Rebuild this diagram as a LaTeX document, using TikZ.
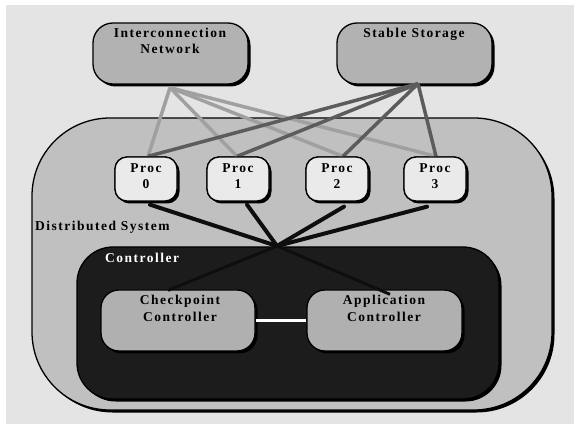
\documentclass[tikz,border=0pt]{standalone}
\usepackage{fontspec}
\setmainfont{Liberation Serif}[LetterSpace=11]
\usetikzlibrary{shadows,calc}
\definecolor{bgc}{HTML}{E4E4E4}
\definecolor{distc}{HTML}{C0C0C0}
\definecolor{topc}{HTML}{B2B2B2}
\definecolor{procc}{HTML}{EAEAEA}
\definecolor{ctrlc}{HTML}{1C1C1C}
\definecolor{subc}{HTML}{B0B0B0}
\definecolor{netl}{HTML}{A0A0A0}
\definecolor{storel}{HTML}{5C5C5C}
\definecolor{linkc}{HTML}{0E0E0E}
\begin{document}
\begin{tikzpicture}[x=1pt,y=-1pt,
  shad/.style={drop shadow={opacity=1,fill=black,shadow xshift=2.5pt,shadow yshift=-2.5pt}},
  box/.style={draw=black,line width=1.3pt,shad,inner sep=0pt,anchor=center},
  lbl/.style={font=\fontsize{13.5}{16}\selectfont\bfseries,inner sep=0pt,anchor=base},
  netline/.style={draw=netl,line width=3.5pt},
  storeline/.style={draw=storel,line width=3.5pt},
  link/.style={draw=linkc,line width=4pt},
  link2/.style={draw=linkc,line width=3pt}]
\useasboundingbox (0,0) rectangle (574,425);
\fill[white] (0,0) rectangle (574,425);
\fill[bgc] (6,5) rectangle (574,424);
% containers
\node[box,fill=distc,rounded corners=78pt,minimum width=520pt,minimum height=292pt] (dist) at (292,264) {};
\node[box,fill=ctrlc,rounded corners=36pt,minimum width=422pt,minimum height=152pt] (ctrl) at (288,323) {};
% top boxes
\node[box,fill=topc,rounded corners=20pt,minimum width=155pt,minimum height=61pt] (net) at (170.5,53.5) {};
\node[box,fill=topc,rounded corners=20pt,minimum width=155pt,minimum height=61pt] (store) at (414.5,53.5) {};
% procs
\node[box,fill=procc,rounded corners=12pt,minimum width=62pt,minimum height=44pt] (p0) at (146,179) {};
\node[box,fill=procc,rounded corners=12pt,minimum width=62pt,minimum height=44pt] (p1) at (238,179) {};
\node[box,fill=procc,rounded corners=12pt,minimum width=62pt,minimum height=44pt] (p2) at (337,179) {};
\node[box,fill=procc,rounded corners=12pt,minimum width=62pt,minimum height=44pt] (p3) at (435,179) {};
% sub controllers
\node[box,fill=subc,rounded corners=18pt,minimum width=154pt,minimum height=61pt] (ckpt) at (178,320.5) {};
\node[box,fill=subc,rounded corners=18pt,minimum width=155pt,minimum height=61pt] (app) at (384.5,320.5) {};
% connection points
\coordinate (nb) at ($(net.south)+(-0.5,3)$);
\coordinate (sb) at ($(store.south)+(3.5,-1)$);
\coordinate (t0) at ($(p0.north)+(2,0)$);
\coordinate (t1) at ($(p1.north)+(-1,0)$);
\coordinate (t2) at ($(p2.north)+(6,0)$);
\coordinate (t3) at ($(p3.north)+(1,0)$);
\coordinate (b0) at ($(p0.south)+(4,3)$);
\coordinate (b1) at ($(p1.south)+(9,3)$);
\coordinate (b2) at ($(p2.south)+(7,5)$);
\coordinate (b3) at ($(p3.south)+(-8,5)$);
\coordinate (hub) at (277,246);
\coordinate (ce) at ($(ckpt.north)+(-10,1)$);
\coordinate (ae) at ($(app.north)+(5.5,5)$);
% interconnection lines
\draw[netline] (nb) -- (t0);
\draw[netline] (nb) -- (t1);
\draw[netline] (nb) -- (t2);
\draw[netline] (nb) -- (t3);
% storage lines
\draw[storeline] (sb) -- (t0);
\draw[storeline] (sb) -- (t1);
\draw[storeline] (sb) -- (t2);
\draw[storeline] (sb) -- (t3);
% redraw proc boxes above the lines' ends
\node[draw=black,line width=1.3pt,fill=procc,rounded corners=12pt,minimum width=62pt,minimum height=44pt,inner sep=0pt] (q0) at (p0) {};
\node[draw=black,line width=1.3pt,fill=procc,rounded corners=12pt,minimum width=62pt,minimum height=44pt,inner sep=0pt] (q1) at (p1) {};
\node[draw=black,line width=1.3pt,fill=procc,rounded corners=12pt,minimum width=62pt,minimum height=44pt,inner sep=0pt] (q2) at (p2) {};
\node[draw=black,line width=1.3pt,fill=procc,rounded corners=12pt,minimum width=62pt,minimum height=44pt,inner sep=0pt] (q3) at (p3) {};
% controller links
\draw[link,line cap=round] (b0) -- (hub);
\draw[link,line cap=round] (b1) -- (hub);
\draw[link,line cap=round] (b2) -- (hub);
\draw[link,line cap=round] (b3) -- (hub);
\draw[link2] (hub) -- (ce);
\draw[link2] (hub) -- (ae);
\draw[white,line width=3pt] (ckpt.east) -- (app.west);
% labels
\node[lbl] (netA) at (170,38) {Interconnection};
\node[lbl] (netB) at (170,54) {Network};
\node[lbl] (stA) at (414,38) {Stable Storage};
\node[lbl] (p0a) at (146,172.5) {Proc};
\node[lbl] (p0b) at (146,188.5) {0};
\node[lbl] (p1a) at (238,172.5) {Proc};
\node[lbl] (p1b) at (238,188.5) {1};
\node[lbl] (p2a) at (337,172.5) {Proc};
\node[lbl] (p2b) at (337,188.5) {2};
\node[lbl] (p3a) at (435,172.5) {Proc};
\node[lbl] (p3b) at (435,188.5) {3};
\node[lbl,anchor=base west] (dsl) at (35,230.5) {Distributed System};
\node[lbl,anchor=base west,text=white] (ctl) at (105,262.5) {Controller};
\node[lbl] (ckA) at (180,305) {Checkpoint};
\node[lbl] (ckB) at (180,321.5) {Controller};
\node[lbl] (apA) at (384,305) {Application};
\node[lbl] (apB) at (384,321.5) {Controller};
\end{tikzpicture}
\end{document}
